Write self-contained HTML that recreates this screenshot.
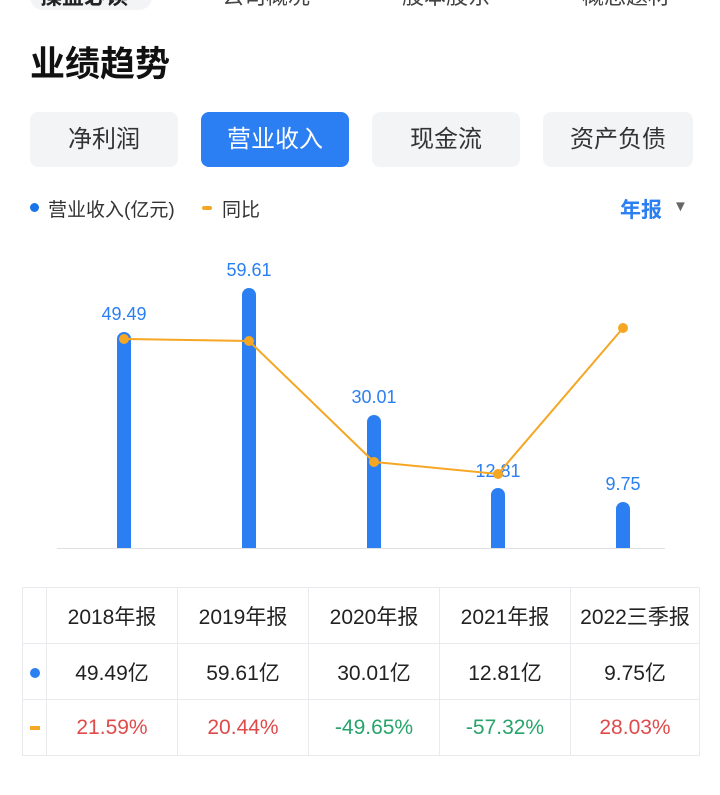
<!DOCTYPE html>
<html><head><meta charset="utf-8"><style>
body{margin:0;width:720px;height:795px;background:#fff;position:relative;overflow:hidden;font-family:"Liberation Sans","Noto Sans CJK SC",sans-serif;}
.a{position:absolute;}
.tab{position:absolute;top:112px;height:55px;width:148px;border-radius:8px;background:#f3f4f6;color:#333;font-size:24px;line-height:55px;text-align:center;}
table{position:absolute;left:22px;top:587px;border-collapse:collapse;font-size:21px;color:#222;}
td{border:1px solid #e8eaee;text-align:center;height:55px;padding:0;}
.r{color:#e04a4a}.g{color:#27a36b}
</style></head><body>
<div class="a" style="left:30px;top:-16px;width:122px;height:26px;border-radius:14px;background:#f3f4f6"></div>
<div class="a" style="left:40px;top:-21px;font-size:22px;color:#222;font-weight:bold">操盘必读</div>
<div class="a" style="left:222px;top:-21px;font-size:22px;color:#444">公司概况</div>
<div class="a" style="left:402px;top:-21px;font-size:22px;color:#444">股本股东</div>
<div class="a" style="left:582px;top:-21px;font-size:22px;color:#444">概念题材</div>
<div class="a" style="left:30px;top:36px;font-size:35px;font-weight:bold;color:#111">业绩趋势</div>
<div class="tab" style="left:30px">净利润</div>
<div class="tab" style="left:201px;background:#2b7ff2;color:#fff">营业收入</div>
<div class="tab" style="left:372px">现金流</div>
<div class="tab" style="left:543px;width:150px">资产负债</div>
<div class="a" style="left:30px;top:203px;width:9px;height:9px;border-radius:50%;background:#1a73e8"></div>
<div class="a" style="left:48px;top:195px;font-size:19px;color:#333">营业收入(亿元)</div>
<div class="a" style="left:202px;top:206px;width:10px;height:4px;background:#f5a623;border-radius:2px"></div>
<div class="a" style="left:222px;top:195px;font-size:19px;color:#333">同比</div>
<div class="a" style="left:620px;top:194px;font-size:21px;color:#2b7ff2;font-weight:bold">年报</div>
<div class="a" style="left:673px;top:198px;font-size:15px;color:#666">▼</div>
<svg class="a" style="left:0;top:0" width="720" height="580">
<line x1="57" y1="548.5" x2="665" y2="548.5" stroke="#e0e0e0"/>
<g fill="#2b7ff2">
<rect x="117" y="332" width="14" height="216" rx="7"/><rect x="117" y="340" width="14" height="208"/>
<rect x="242" y="288" width="14" height="260" rx="7"/><rect x="242" y="296" width="14" height="252"/>
<rect x="367" y="415" width="14" height="133" rx="7"/><rect x="367" y="423" width="14" height="125"/>
<rect x="491" y="488" width="14" height="60" rx="7"/><rect x="491" y="496" width="14" height="52"/>
<rect x="616" y="502" width="14" height="46" rx="7"/><rect x="616" y="510" width="14" height="38"/>
</g>
<g font-size="18" fill="#2b7ff2" text-anchor="middle">
<text x="124" y="320">49.49</text><text x="249" y="276">59.61</text><text x="374" y="403">30.01</text><text x="498" y="477">12.81</text><text x="623" y="490">9.75</text>
</g>
<polyline points="124,339 249,341 374,462 498,474 623,328" fill="none" stroke="#f5a623" stroke-width="2"/>
<g fill="#f5a623"><circle cx="124" cy="339" r="5"/><circle cx="249" cy="341" r="5"/><circle cx="374" cy="462" r="5"/><circle cx="498" cy="474" r="5"/><circle cx="623" cy="328" r="5"/></g>
</svg>
<table>
<tr><td style="width:23px"></td><td style="width:130px">2018年报</td><td style="width:130px">2019年报</td><td style="width:130px">2020年报</td><td style="width:130px">2021年报</td><td style="width:128px">2022三季报</td></tr>
<tr><td><span style="display:inline-block;width:10px;height:10px;border-radius:50%;background:#2b7ff2"></span></td><td>49.49亿</td><td>59.61亿</td><td>30.01亿</td><td>12.81亿</td><td>9.75亿</td></tr>
<tr><td><span style="display:inline-block;width:10px;height:4px;background:#f5a623;vertical-align:middle"></span></td><td class="r">21.59%</td><td class="r">20.44%</td><td class="g">-49.65%</td><td class="g">-57.32%</td><td class="r">28.03%</td></tr>
</table>
</body></html>
